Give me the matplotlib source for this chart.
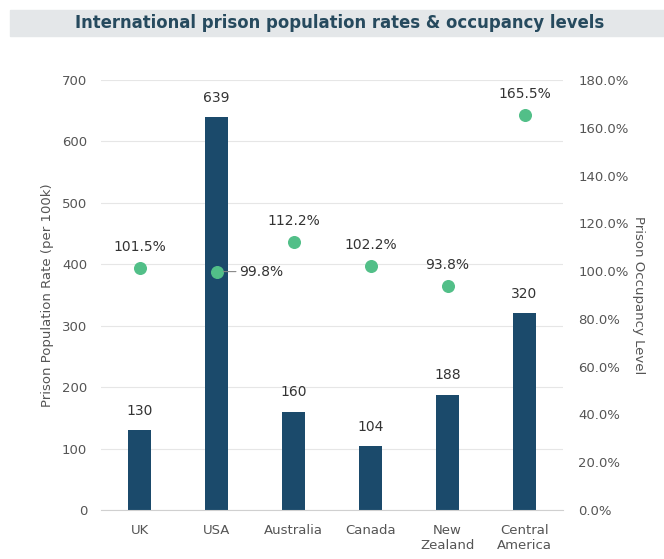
import matplotlib.pyplot as plt
import matplotlib.patches as mpatches
from matplotlib.ticker import FuncFormatter

countries = ['UK', 'USA', 'Australia', 'Canada', 'New\nZealand', 'Central\nAmerica']
rates = [130, 639, 160, 104, 188, 320]
occupancy = [101.5, 99.8, 112.2, 102.2, 93.8, 165.5]

bar_color = '#1b4a6b'
dot_color = '#52bf88'
text_color = '#333333'
tick_color = '#555555'

plt.rcParams['font.family'] = 'DejaVu Sans'

fig = plt.figure(figsize=(6.64, 5.59), dpi=100)

# title band
fig.patches.append(mpatches.Rectangle((10 / 664, 1 - 36 / 559), 654 / 664, 26 / 559,
                                      transform=fig.transFigure, color='#e4e7e9', zorder=0))
fig.text(0.512, 1 - 23 / 559, 'International prison population rates & occupancy levels',
         ha='center', va='center', fontsize=11.9, fontweight='bold', color='#264a5e')

ax = fig.add_axes([101 / 664, 1 - 510 / 559, 462 / 664, 430 / 559])
x = list(range(len(countries)))
ax.bar(x, rates, width=0.31, color=bar_color, zorder=2)
ax.set_xlim(-0.5, 5.5)
ax.set_ylim(0, 700)
ax.set_yticks(range(0, 701, 100))
ax.set_xticks(x)
ax.set_xticklabels(countries, fontsize=9.5, color=tick_color)
ax.tick_params(axis='y', length=0, pad=10, labelsize=9.5, labelcolor=tick_color)
ax.tick_params(axis='x', length=0, pad=10, labelsize=9.5, labelcolor=tick_color)
ax.grid(axis='y', color='#e6e6e6', linewidth=0.8, zorder=0)
for s in ['top', 'right', 'left']:
    ax.spines[s].set_visible(False)
ax.spines['bottom'].set_color('#d0d0d0')
ax.set_ylabel('Prison Population Rate (per 100k)', fontsize=9.5, color=tick_color, labelpad=6)

for xi, r in zip(x, rates):
    ax.annotate(str(r), (xi, r), xytext=(0, 9), textcoords='offset points',
                ha='center', va='bottom', fontsize=10, color=text_color)

ax2 = ax.twinx()
ax2.set_ylim(0, 180)
ax2.set_yticks(range(0, 181, 20))
ax2.yaxis.set_major_formatter(FuncFormatter(lambda v, p: f'{v:.1f}%'))
ax2.tick_params(axis='y', length=0, pad=11, labelsize=9.5, labelcolor=tick_color)
for s in ['top', 'right', 'left', 'bottom']:
    ax2.spines[s].set_visible(False)
ax2.set_ylabel('Prison Occupancy Level', fontsize=9.5, color=tick_color, rotation=270, labelpad=12)
ax2.scatter(x, occupancy, s=70, color=dot_color, zorder=3)

for xi, o in zip(x, occupancy):
    if countries[xi] == 'USA':
        ax2.annotate(f'{o:.1f}%', (xi, o), xytext=(16, 0), textcoords='offset points',
                     ha='left', va='center', fontsize=10, color=text_color,
                     arrowprops=dict(arrowstyle='-', color='#888888', lw=0.8,
                                     shrinkA=0, shrinkB=5))
    else:
        ax2.annotate(f'{o:.1f}%', (xi, o), xytext=(0, 10), textcoords='offset points',
                     ha='center', va='bottom', fontsize=10, color=text_color)

fig.savefig('out.png', dpi=100)
